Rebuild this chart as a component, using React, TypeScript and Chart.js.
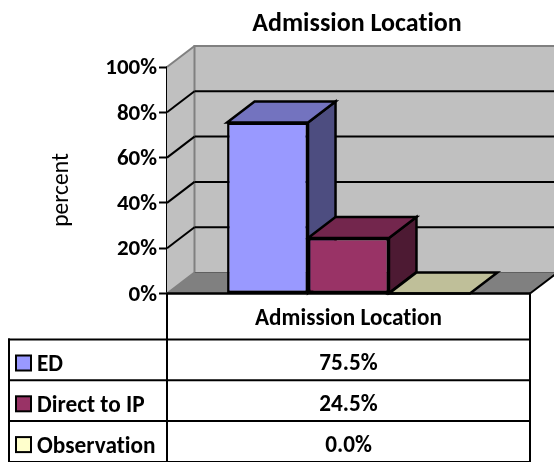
import React, { useEffect, useRef } from "react";
import { Chart, registerables } from "chart.js";

Chart.register(...registerables);

const categories = ["Admission Location"];
const seriesNames = ["ED", "Direct to IP", "Observation"];
const seriesValues = [75.5, 24.5, 0.0];
const frontColors = ["#9999ff", "#993366", "#ffffcc"];
const topColors = ["#7373bf", "#73264d", "#bfbf99"];
const sideColors = ["#4d4d80", "#4d1a33", "#808066"];
const tickValues = [0, 20, 40, 60, 80, 100];

const FONT = "Carlito, Lato, sans-serif";
const DEPTH_X = 27.5;
const DEPTH_Y = 21;
const TABLE_LEFT = 9;
const TABLE_TOP = 339.5;
const ROW_HEIGHT = 40.8;

function poly(ctx: CanvasRenderingContext2D, pts: number[][], fill?: string, stroke?: string, lw = 2.5) {
  ctx.beginPath();
  pts.forEach((p, i) => (i ? ctx.lineTo(p[0], p[1]) : ctx.moveTo(p[0], p[1])));
  ctx.closePath();
  if (fill) {
    ctx.fillStyle = fill;
    ctx.fill();
  }
  if (stroke) {
    ctx.strokeStyle = stroke;
    ctx.lineWidth = lw;
    ctx.lineJoin = "miter";
    ctx.stroke();
  }
}

function line(ctx: CanvasRenderingContext2D, x1: number, y1: number, x2: number, y2: number, color: string, lw = 2) {
  ctx.beginPath();
  ctx.moveTo(x1, y1);
  ctx.lineTo(x2, y2);
  ctx.strokeStyle = color;
  ctx.lineWidth = lw;
  ctx.stroke();
}

// Side wall, back wall, floor and the receding faces of each column.
const boxPlugin = {
  id: "box3d",
  beforeDatasetsDraw(chart: any) {
    const { ctx, chartArea: a, scales } = chart;
    const yScale = scales.y;
    const top = yScale.getPixelForValue(100);
    const base = yScale.getPixelForValue(0);
    const backLeft = a.left + DEPTH_X;
    const backRight = a.right + DEPTH_X;
    ctx.save();
    poly(ctx, [[a.left, top], [backLeft, top - DEPTH_Y], [backLeft, base - DEPTH_Y], [a.left, base]], "#c0c0c0");
    poly(ctx, [[backLeft, top - DEPTH_Y], [backRight, top - DEPTH_Y], [backRight, base - DEPTH_Y], [backLeft, base - DEPTH_Y]], "#c0c0c0");
    poly(ctx, [[a.left, base], [a.right, base], [backRight, base - DEPTH_Y], [backLeft, base - DEPTH_Y]], "#808080");

    line(ctx, a.left, top, backLeft, top - DEPTH_Y, "#808080");
    line(ctx, backLeft - 1, top - DEPTH_Y, backRight, top - DEPTH_Y, "#808080");
    line(ctx, backLeft, top - DEPTH_Y, backLeft, base - DEPTH_Y, "#808080");
    line(ctx, a.left, base, backLeft, base - DEPTH_Y, "#808080");
    line(ctx, backLeft, base - DEPTH_Y, backRight, base - DEPTH_Y, "#606060", 1);

    tickValues.filter((v) => v > 0 && v < 100).forEach((v) => {
      const y = yScale.getPixelForValue(v);
      line(ctx, a.left, y, backLeft, y - DEPTH_Y, "#000");
      line(ctx, backLeft, y - DEPTH_Y, backRight, y - DEPTH_Y, "#000");
    });
    line(ctx, a.right, base, backRight, base - DEPTH_Y, "#000");

    seriesValues.forEach((_, i) => {
      const bar = chart.getDatasetMeta(i).data[0];
      const l = bar.x - bar.width / 2;
      const r = bar.x + bar.width / 2;
      const t = bar.y;
      const b = bar.base;
      if (t !== b) {
        poly(ctx, [[r, t], [r + DEPTH_X, t - DEPTH_Y], [r + DEPTH_X, b - DEPTH_Y], [r, b]], sideColors[i], "#000");
      }
      poly(ctx, [[l, t], [r, t], [r + DEPTH_X, t - DEPTH_Y], [l + DEPTH_X, t - DEPTH_Y]], topColors[i], "#000");
    });
    ctx.restore();
  },
  afterDraw(chart: any) {
    const { ctx, chartArea: a, scales } = chart;
    const base = scales.y.getPixelForValue(0);
    const bottom = TABLE_TOP + ROW_HEIGHT * seriesNames.length;
    ctx.save();

    line(ctx, a.left, base, a.right, base, "#000", 2.5);

    ctx.fillStyle = "#000";
    ctx.textBaseline = "middle";
    // A hair of tracking keeps "ti" as two separate letters.
    (ctx as any).letterSpacing = "0.01px";

    ctx.font = `bold 26px ${FONT}`;
    ctx.textAlign = "center";
    ctx.fillText(categories[0], 357, 24);

    ctx.save();
    ctx.translate(62, 190);
    ctx.rotate(-Math.PI / 2);
    ctx.font = `23.5px ${FONT}`;
    ctx.fillText("percent", 0, 0);
    ctx.restore();

    // Data table beneath the plot.
    line(ctx, a.left, base, a.left, bottom, "#000");
    line(ctx, a.right, base, a.right, bottom, "#000");
    line(ctx, TABLE_LEFT, TABLE_TOP - 1, TABLE_LEFT, bottom, "#000");
    for (let i = 0; i <= seriesNames.length; i++) {
      const y = TABLE_TOP + ROW_HEIGHT * i;
      line(ctx, TABLE_LEFT - 1, y, a.right + 1, y, "#000");
    }

    const midX = (a.left + a.right) / 2;
    ctx.font = `bold 23.2px ${FONT}`;
    ctx.textAlign = "center";
    ctx.fillText(categories[0], midX, 319);

    seriesNames.forEach((name, i) => {
      const cy = TABLE_TOP + ROW_HEIGHT * i + 23;
      ctx.fillStyle = frontColors[i];
      ctx.strokeStyle = "#000";
      ctx.lineWidth = 2;
      ctx.fillRect(16, cy - 7, 15, 15);
      ctx.strokeRect(16, cy - 7, 15, 15);
      ctx.fillStyle = "#000";
      ctx.textAlign = "left";
      ctx.font = `bold 23.3px ${FONT}`;
      ctx.fillText(name, 37, cy + 3);
      ctx.textAlign = "center";
      ctx.font = `bold 23.2px ${FONT}`;
      ctx.fillText(`${seriesValues[i].toFixed(1)}%`, midX, cy + 2);
    });
    ctx.restore();
  },
};

export default function App() {
  const ref = useRef<HTMLCanvasElement>(null);

  useEffect(() => {
    const chart = new Chart(ref.current!, {
      type: "bar",
      plugins: [boxPlugin],
      data: {
        labels: categories,
        datasets: seriesNames.map((name, i) => ({
          label: name,
          data: [seriesValues[i]],
          backgroundColor: frontColors[i],
          borderColor: "#000",
          borderWidth: 2.5,
          borderSkipped: false,
          categoryPercentage: 0.669,
          barPercentage: 1,
        })),
      },
      options: {
        responsive: false,
        animation: false,
        devicePixelRatio: 1,
        layout: { padding: { top: 67, right: 24, bottom: 168.5, left: 0 } },
        plugins: { legend: { display: false }, title: { display: false }, tooltip: { enabled: false } },
        scales: {
          x: { display: false },
          y: {
            min: 0,
            max: 100,
            afterFit: (scale: any) => {
              scale.width = 167;
            },
            afterBuildTicks: (scale: any) => {
              scale.ticks = tickValues.map((value) => ({ value }));
            },
            border: { color: "#000", width: 2.5 },
            grid: { drawOnChartArea: false, drawTicks: true, tickLength: 8, tickColor: "#000", tickWidth: 2 },
            ticks: {
              color: "#000",
              padding: 2,
              // The empty first line with a tight line height sits each label slightly lower.
              font: { family: FONT, weight: "bold", size: 23, lineHeight: "3px" },
              callback: (v: any) => ["", `${v}%`],
            },
          },
        },
      },
    } as any);
    return () => chart.destroy();
  }, []);

  return (
    <div style={{ position: "absolute", left: 0, top: 0, width: 554, height: 462, overflow: "hidden", background: "#fff" }}>
      <canvas ref={ref} width={554} height={462} style={{ display: "block" }} />
    </div>
  );
}
